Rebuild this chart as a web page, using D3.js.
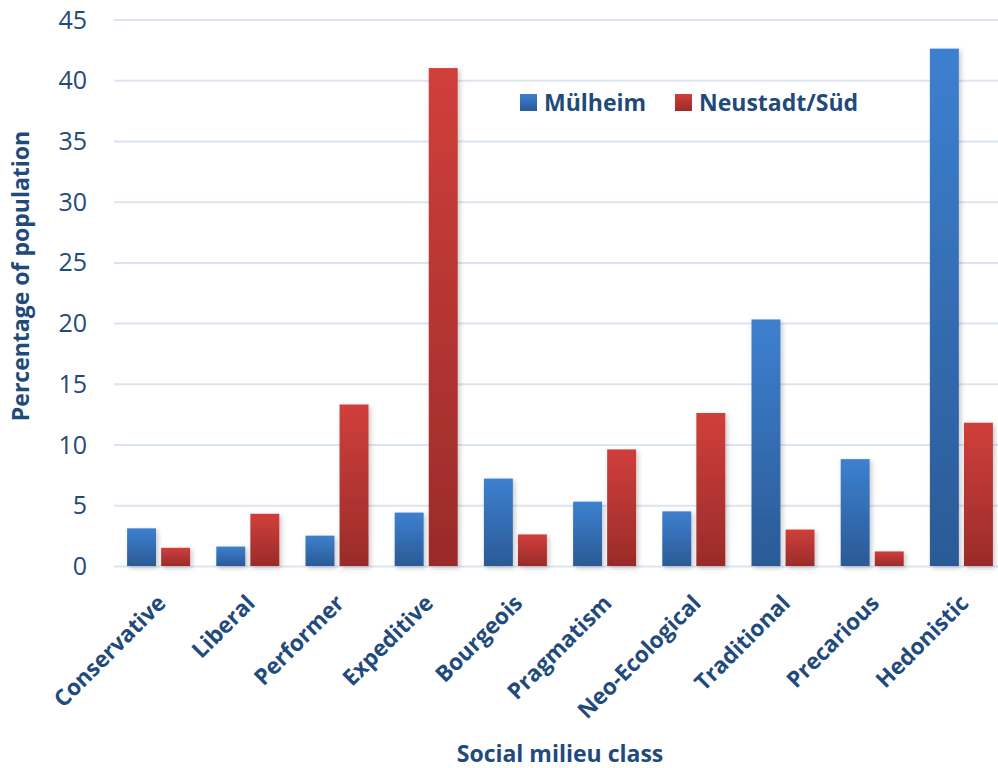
<!DOCTYPE html>
<html>
<head>
<meta charset="utf-8">
<script src="https://cdn.jsdelivr.net/npm/d3@7"></script>
<style>
  html, body { margin: 0; padding: 0; background: #ffffff; }
  svg { display: block; }
  text { font-family: "Open Sans", "Noto Sans", sans-serif; }
</style>
</head>
<body>
<svg id="chart" width="998" height="768"></svg>
<script>
const categories = ["Conservative", "Liberal", "Performer", "Expeditive", "Bourgeois",
  "Pragmatism", "Neo-Ecological", "Traditional", "Precarious", "Hedonistic"];
const seriesNames = ["Mülheim", "Neustadt/Süd"];
const mulheim = [3.1, 1.6, 2.5, 4.4, 7.2, 5.3, 4.5, 20.3, 8.8, 42.6];
const neustadt = [1.5, 4.3, 13.3, 41.0, 2.6, 9.6, 12.6, 3.0, 1.2, 11.8];
const yTicks = [0, 5, 10, 15, 20, 25, 30, 35, 40, 45];

const textColor = "#1f4a7c";
const svg = d3.select("#chart");

const plot = { left: 114, right: 1006, top: 19.5, bottom: 566 };

const x = d3.scaleBand().domain(categories).range([plot.left, plot.right]).paddingInner(0).paddingOuter(0);
const inner = d3.scaleBand().domain(seriesNames).range([0, 63]).paddingInner(0.15);
const innerOffset = (x.bandwidth() - 63) / 2;
const y = d3.scaleLinear().domain([0, 45]).range([plot.bottom, plot.top]);

// defs: gradients + shadow
const defs = svg.append("defs");
const grads = [
  { id: "gBlue", top: "#3d80d0", bottom: "#2b5a96" },
  { id: "gRed", top: "#d03f3b", bottom: "#9a2b2a" }
];
grads.forEach(g => {
  const lg = defs.append("linearGradient").attr("id", g.id)
    .attr("x1", 0).attr("y1", 0).attr("x2", 0).attr("y2", 1);
  lg.append("stop").attr("offset", "0%").attr("stop-color", g.top);
  lg.append("stop").attr("offset", "100%").attr("stop-color", g.bottom);
});
const f = defs.append("filter").attr("id", "shadow")
  .attr("x", "-30%").attr("y", "-10%").attr("width", "160%").attr("height", "130%");
f.append("feDropShadow").attr("dx", 2).attr("dy", 2).attr("stdDeviation", 2.5)
  .attr("flood-color", "#000").attr("flood-opacity", 0.22);

// grid + y axis
const yAxis = d3.axisLeft(y).tickValues(yTicks).tickSize(-(998 - plot.left)).tickPadding(27);
const gy = svg.append("g").attr("transform", `translate(${plot.left},0)`).call(yAxis);
gy.select(".domain").remove();
gy.selectAll(".tick line").attr("stroke", "#dbe5f2").attr("stroke-width", 2);
gy.selectAll(".tick text").attr("fill", textColor)
  .style("font-size", "25px").style("font-family", "'Open Sans', sans-serif").attr("dy", "0.34em");

// bars
const data = [mulheim, neustadt];
const fills = ["url(#gBlue)", "url(#gRed)"];
seriesNames.forEach((s, si) => {
  svg.append("g").attr("filter", "url(#shadow)")
    .selectAll("rect").data(categories).join("rect")
    .attr("x", c => x(c) + innerOffset + inner(s))
    .attr("width", inner.bandwidth())
    .attr("y", (c, i) => y(data[si][i]))
    .attr("height", (c, i) => y(0) - y(data[si][i]))
    .attr("fill", fills[si]);
});

// x labels
svg.append("g").selectAll("text").data(categories).join("text")
  .attr("transform", c => `translate(${x(c) + x.bandwidth() / 2 + 3},${599}) rotate(-45)`)
  .attr("text-anchor", "end")
  .attr("dy", "0.35em")
  .attr("fill", textColor)
  .style("font-size", "22.5px").style("font-weight", "bold")
  .text(c => c);

// axis titles
svg.append("text")
  .attr("transform", `translate(29,276) rotate(-90)`)
  .attr("text-anchor", "middle")
  .attr("fill", textColor)
  .style("font-size", "23px").style("font-weight", "bold")
  .text("Percentage of population");

svg.append("text")
  .attr("x", 560).attr("y", 762)
  .attr("text-anchor", "middle")
  .attr("fill", textColor)
  .style("font-size", "23px").style("font-weight", "bold")
  .text("Social milieu class");

// legend
const legendItems = [
  { name: seriesNames[0], fill: fills[0], x: 520 },
  { name: seriesNames[1], fill: fills[1], x: 675 }
];
const lg = svg.append("g");
legendItems.forEach(it => {
  lg.append("rect").attr("x", it.x).attr("y", 94).attr("width", 17).attr("height", 17).attr("fill", it.fill);
  lg.append("text").attr("x", it.x + 24).attr("y", 111)
    .attr("fill", textColor)
    .style("font-size", "23px").style("font-weight", "bold")
    .text(it.name);
});
</script>
</body>
</html>
